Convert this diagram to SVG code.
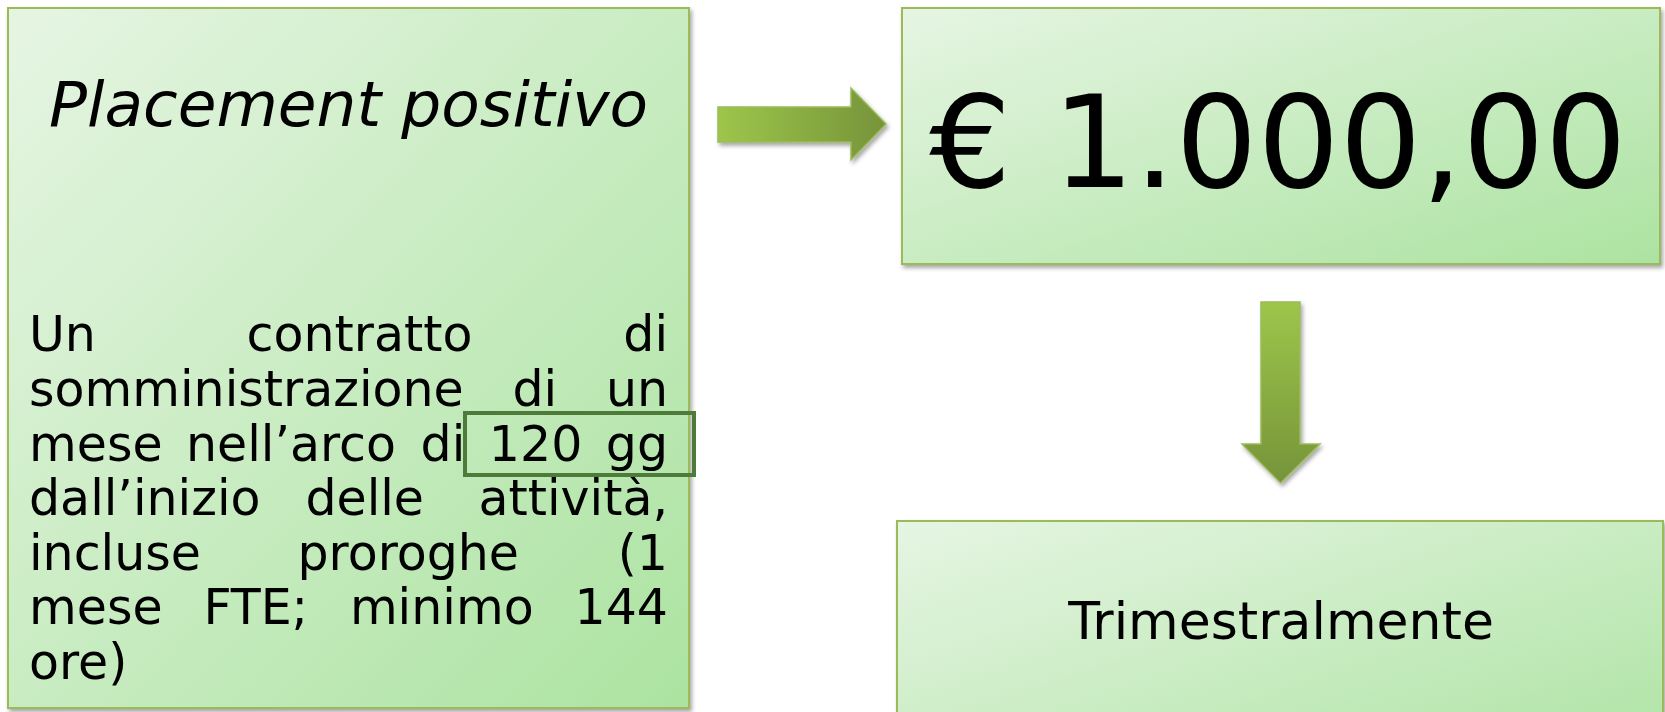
<svg xmlns="http://www.w3.org/2000/svg" width="1665" height="712" viewBox="0 0 1665 712">
<defs>
<linearGradient id="boxg" x1="0" y1="0" x2="1" y2="1">
<stop offset="0" stop-color="#e6f5e3"/>
<stop offset="1" stop-color="#ace3a1"/>
</linearGradient>
<linearGradient id="arrh" x1="0" y1="0" x2="1" y2="0">
<stop offset="0" stop-color="#9dc64a"/>
<stop offset="1" stop-color="#76933a"/>
</linearGradient>
<linearGradient id="arrv" x1="0" y1="0" x2="0" y2="1">
<stop offset="0" stop-color="#9dc64a"/>
<stop offset="1" stop-color="#76933a"/>
</linearGradient>
<filter id="sh" x="-10%" y="-10%" width="120%" height="130%">
<feDropShadow dx="2" dy="3" stdDeviation="2" flood-color="#000" flood-opacity="0.35"/>
</filter>
</defs>
<style>
.box{fill:url(#boxg);stroke:#9bbb59;stroke-width:2;filter:url(#sh)}
.t{font-family:"DejaVu Sans",Verdana,sans-serif;fill:#000}
.p{font-size:49px}
.arr{stroke:#9bbb59;stroke-width:1.5;filter:url(#sh)}
</style>
<g id="node-placement">
<rect class="box" x="8" y="8" width="681" height="700"/>
<text class="t" x="348.5" y="126" font-size="63" font-style="italic" text-anchor="middle">Placement positivo</text>
<g class="t p">
<text y="351"><tspan x="29">Un</tspan><tspan x="246.6">contratto</tspan><tspan x="668" text-anchor="end">di</tspan></text>
<text y="406"><tspan x="29">somministrazione</tspan><tspan x="512.4">di</tspan></text>
<text y="406" x="668" text-anchor="end">un</text>
<text y="461"><tspan x="29">mese</tspan><tspan x="186">nell’arco</tspan><tspan x="420.6">di</tspan><tspan x="488.8">120</tspan></text>
<text y="461" x="668" text-anchor="end">gg</text>
<text y="515"><tspan x="29">dall’inizio</tspan><tspan x="305.4">delle</tspan></text>
<text y="515" x="668" text-anchor="end">attività,</text>
<text y="570"><tspan x="29">incluse</tspan><tspan x="297.5">proroghe</tspan></text>
<text y="570" x="668" text-anchor="end">(1</text>
<text y="624"><tspan x="29">mese</tspan><tspan x="203.4">FTE;</tspan><tspan x="349.9">minimo</tspan></text>
<text y="624" x="668" text-anchor="end">144</text>
<text y="679" x="29">ore)</text>
</g>
<rect x="465" y="413" width="229" height="62" fill="none" stroke="#4f7b3a" stroke-width="4"/>
</g>
<g id="node-amount">
<rect class="box" x="902" y="8" width="758" height="256"/>
<text class="t" x="1278" y="187" font-size="129" text-anchor="middle">€ 1.000,00</text>
</g>
<g id="node-trimestralmente">
<rect class="box" x="897" y="521" width="766" height="260"/>
<text class="t" x="1281" y="639" font-size="52" text-anchor="middle">Trimestralmente</text>
</g>
<g id="connectors">
<polygon class="arr" fill="url(#arrh)" points="718,107 851,107 851,88 886,124 851,160 851,142 718,142"/>
<polygon class="arr" fill="url(#arrv)" points="1261,302 1300,302 1300,444 1320,444 1280.5,483 1242,444 1261,444"/>
</g>
</svg>
